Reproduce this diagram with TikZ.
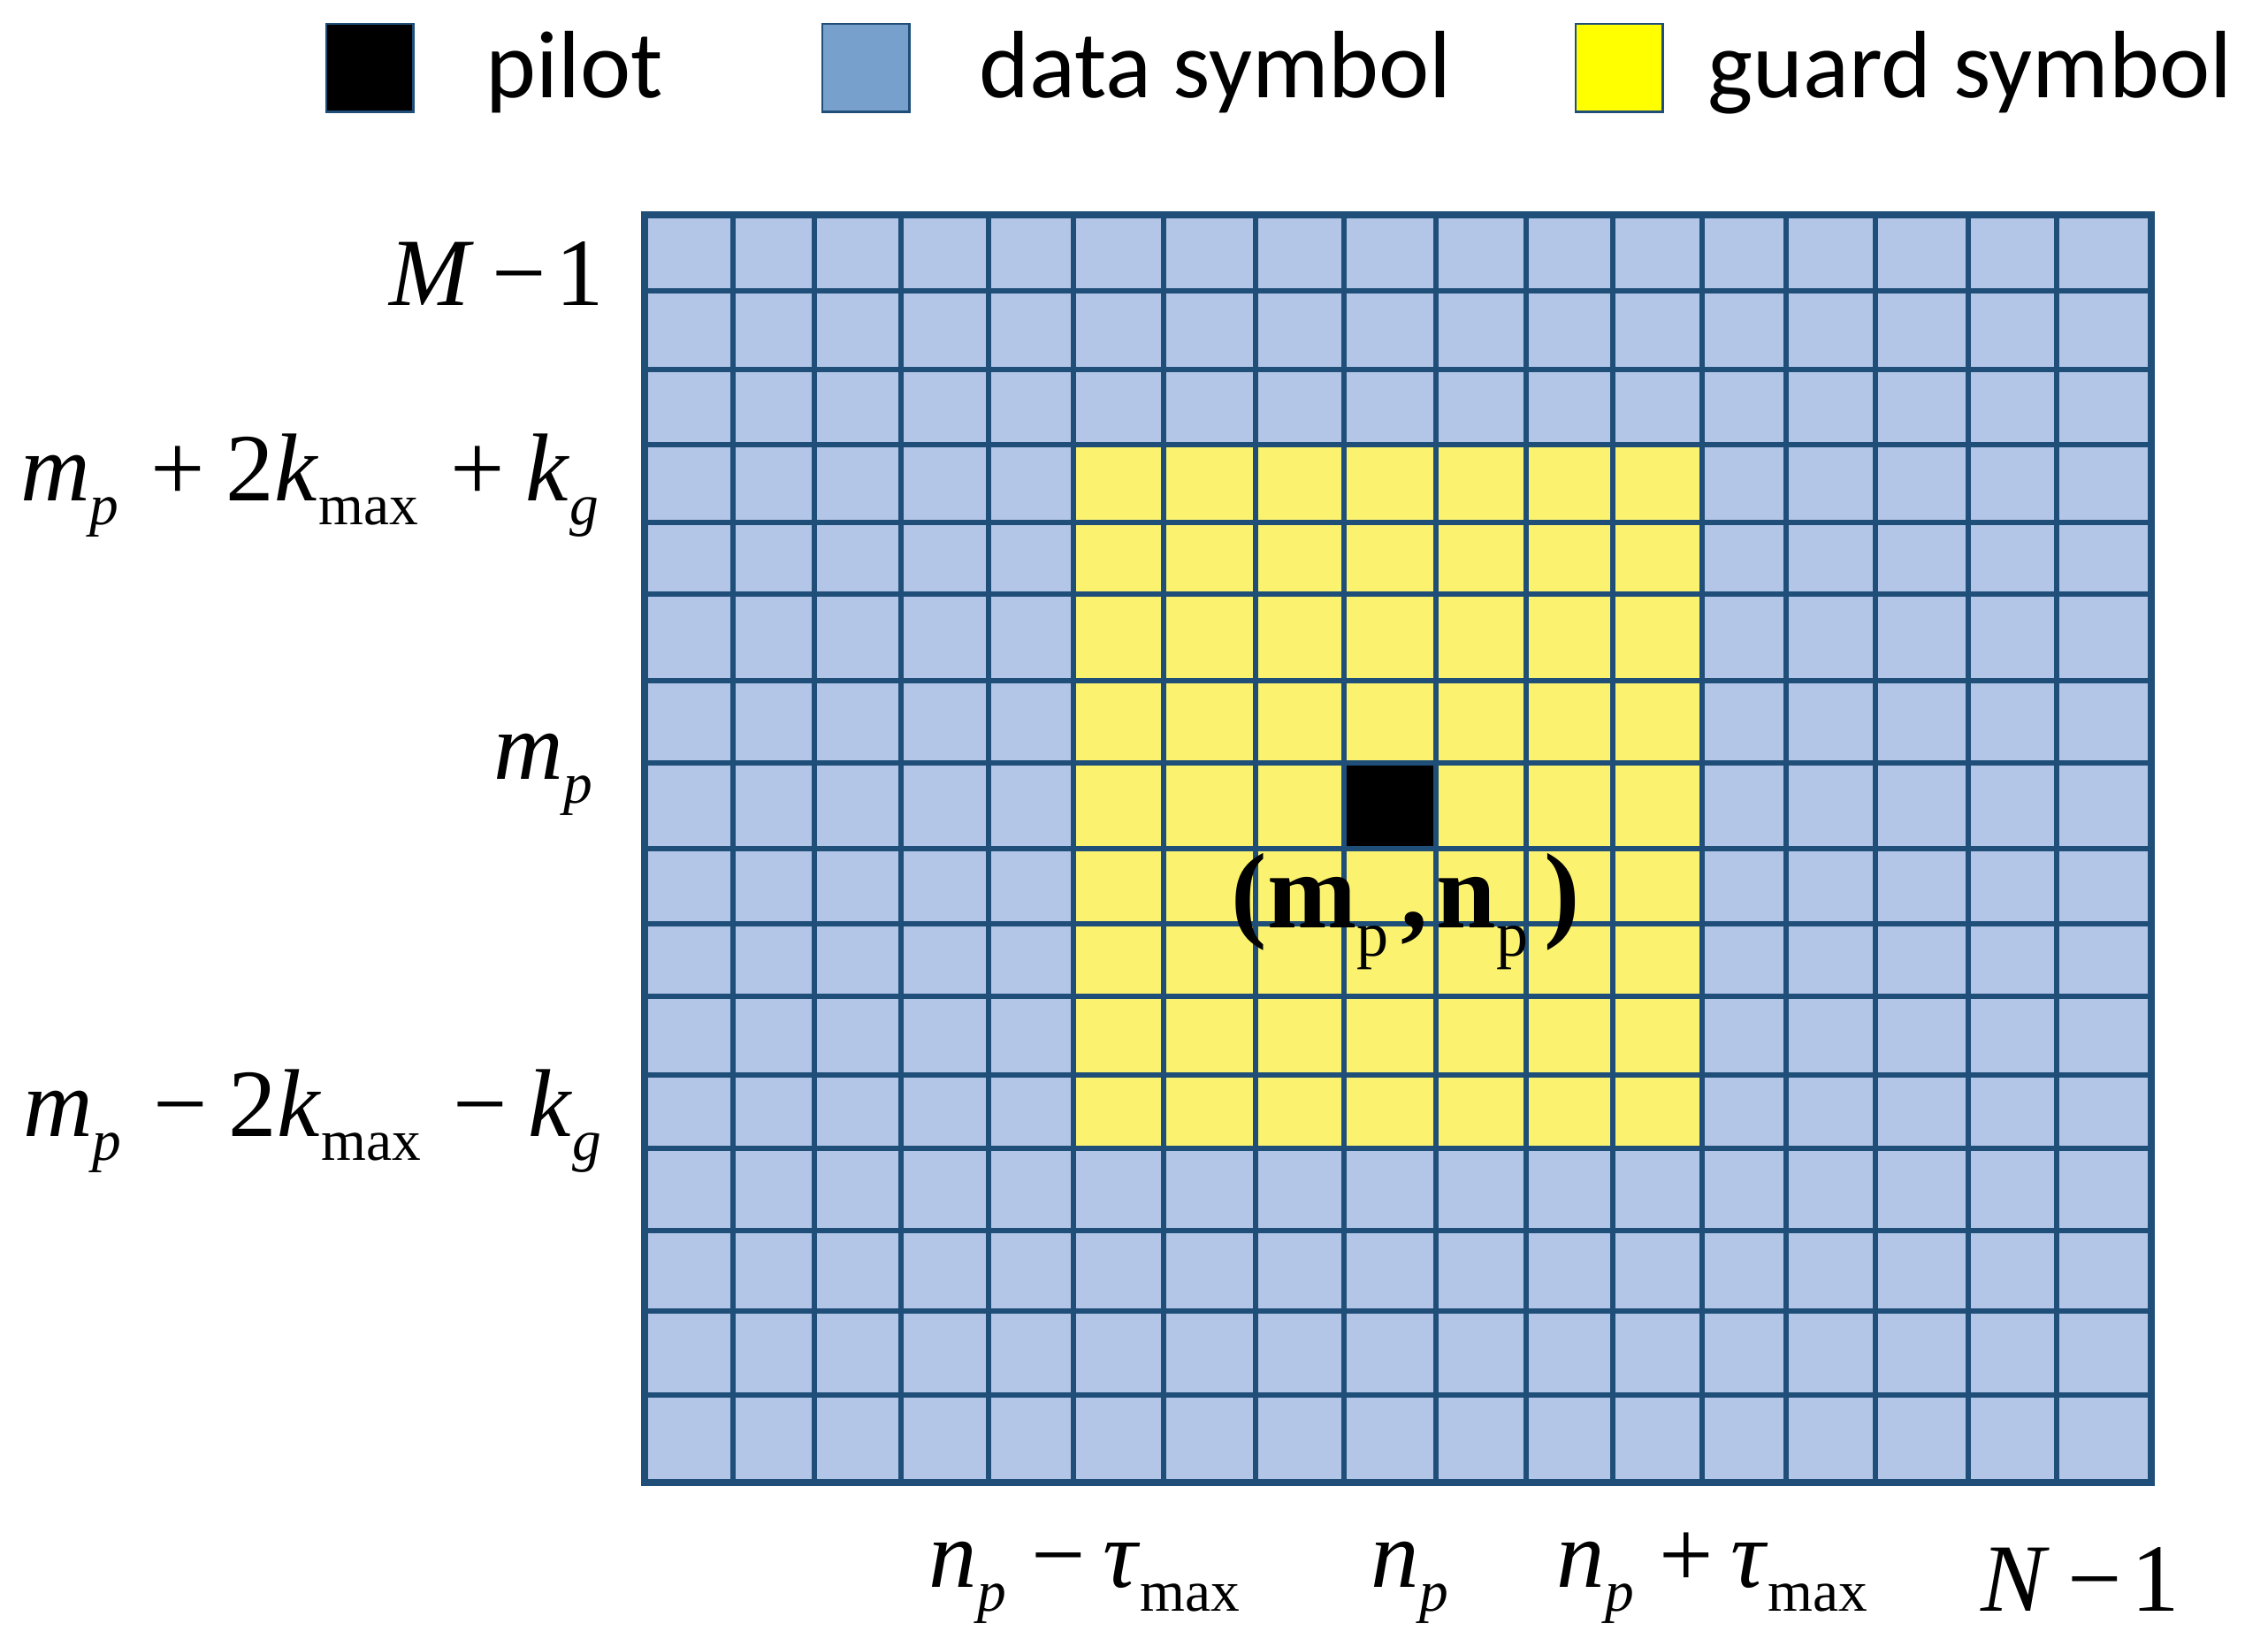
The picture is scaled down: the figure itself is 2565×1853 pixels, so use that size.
\documentclass[tikz,border=0pt]{standalone}
\usepackage{fontspec}
\setmainfont{Liberation Serif}
\newfontfamily\legfont{Carlito}
\definecolor{gridblue}{RGB}{31,78,121}
\definecolor{cellblue}{RGB}{180,198,231}
\definecolor{cellyellow}{RGB}{251,243,112}
\definecolor{legblue}{RGB}{120,160,205}
\definecolor{legyellow}{RGB}{255,255,0}
\newcommand\lsub[1]{\raisebox{-0.25em}{\fontsize{18.6pt}{18.6pt}\selectfont #1}}
\newcommand\bsub[1]{\raisebox{-0.27em}{\fontsize{20.5pt}{20.5pt}\selectfont #1}}
\newcommand\mneg{\hspace{0.33em}\char"2212\hspace{0.22em}}
\newcommand\mpos{\hspace{0.33em}+\hspace{0.22em}}
\newcommand\tneg{\hspace{0.18em}\char"2212\hspace{0.1em}}
\newcommand\bneg{\hspace{0.26em}\char"2212\hspace{0.18em}}
\newcommand\bpos{\hspace{0.26em}+\hspace{0.18em}}
\begin{document}
\begin{tikzpicture}[x=0.01cm,y=-0.01cm,
  gridline/.style={draw=gridblue,line width=1.9pt},
  gridborder/.style={draw=gridblue,line width=2.3pt},
  lbl/.style={inner sep=0pt,font=\fontsize{31pt}{31pt}\selectfont},
  boldlbl/.style={inner sep=0pt,font=\bfseries\fontsize{34.5pt}{34.5pt}\selectfont},
  leg/.style={inner sep=0pt,anchor=base west,font=\legfont\fontsize{30.8pt}{30.8pt}\selectfont},
  legbox/.style={draw=gridblue,line width=0.7pt,inner sep=0pt,minimum width=0.98cm,minimum height=0.99cm,anchor=north west}]
\useasboundingbox (0,0) rectangle (2565,1853);
% legend
\node (kpilot) [legbox,fill=black] at (368,26) {};
\node (kdata)  [legbox,fill=legblue] at (929,26) {};
\node (kguard) [legbox,fill=legyellow] at (1781,26) {};
\node (tpilot) [leg] at (549,110) {pilot};
\node (tdata)  [leg] at (1107,110) {data symbol};
\node (tguard) [leg] at (1931,110) {guard symbol};
% grid cells
\fill[cellblue] (729,243) rectangle (2433,1677);
\fill[cellyellow] (1214,503) rectangle (1925,1299);
\fill[black] (1520,863) rectangle (1624,960);
\foreach \x in {829,921,1019,1118,1214,1316,1420,1520,1624,1726,1824,1925,2020,2121,2226,2326}
  \draw[gridline] (\x,243) -- (\x,1677);
\foreach \y in {329,418,503,591,672,770,863,960,1045,1127,1216,1299,1392,1483,1578}
  \draw[gridline] (729,\y) -- (2433,\y);
\draw[gridborder] (729,243) rectangle (2433,1677);
% pilot label
\node (plbl) [boldlbl,anchor=base west] at (1392,1049)
  {(m\bsub{\mdseries p}\hspace{0.12em},\hspace{0.08em}n\bsub{\mdseries p}\hspace{0.15em})};
% left labels
\node (lM) [lbl,anchor=base east] at (684,345) {\textit{M}\tneg 1};
\node (lup) [lbl,anchor=base east] at (678,566)
  {\textit{m}\lsub{\textit{p}}\mpos 2\textit{k}\lsub{max}\mpos\textit{k}\lsub{\textit{g}}};
\node (lmp) [lbl,anchor=base east] at (671,881) {\textit{m}\lsub{\textit{p}}};
\node (ldn) [lbl,anchor=base east] at (681,1285)
  {\textit{m}\lsub{\textit{p}}\mneg 2\textit{k}\lsub{max}\mneg\textit{k}\lsub{\textit{g}}};
% bottom labels
\node (bl) [lbl,anchor=base west] at (1050,1795)
  {\textit{n}\lsub{\textit{p}}\bneg\textit{\char"03C4}\lsub{max}};
\node (bc) [lbl,anchor=base west] at (1550,1795) {\textit{n}\lsub{\textit{p}}};
\node (br) [lbl,anchor=base west] at (1760,1795)
  {\textit{n}\lsub{\textit{p}}\bpos\textit{\char"03C4}\lsub{max}};
\node (bN) [lbl,anchor=base west] at (2240,1822) {\textit{N}\tneg 1};
\end{tikzpicture}
\end{document}
